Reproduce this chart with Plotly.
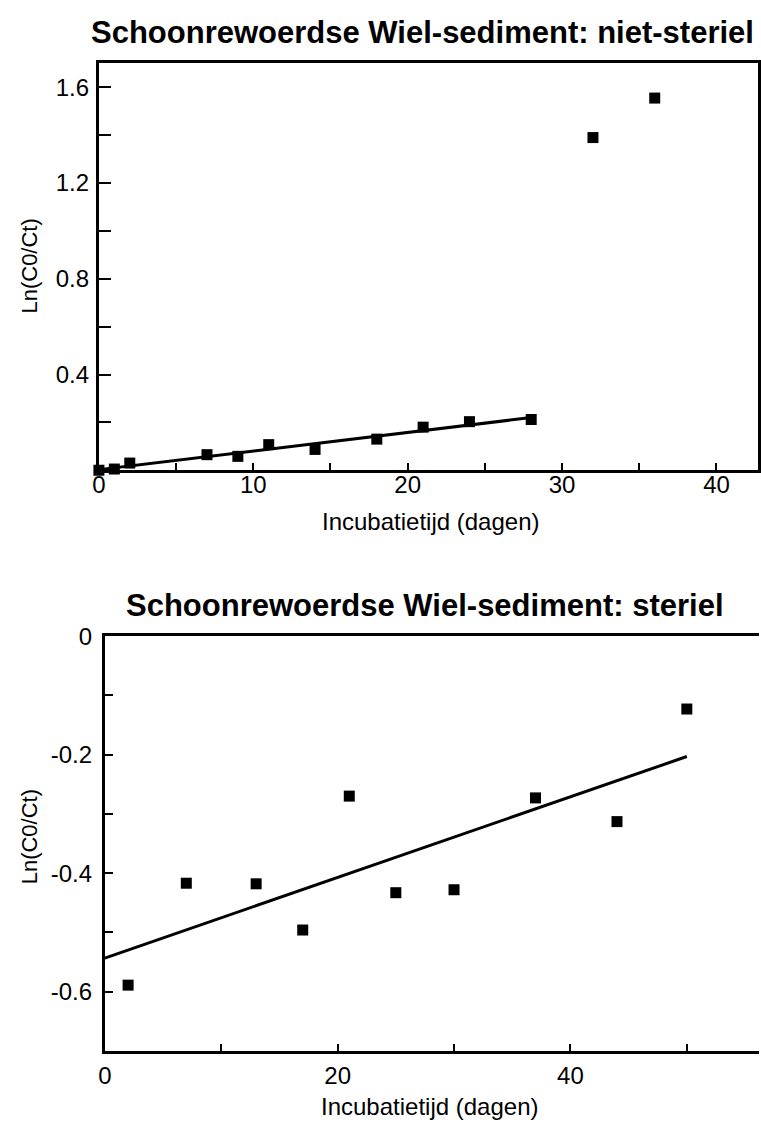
import numpy as np
import plotly.graph_objects as go

# ---------------- data ----------------
# Top panel: niet-steriel
days_ns = [0, 1, 2, 7, 9, 11, 14, 18, 21, 24, 28, 32, 36]
ln_ns = [0.0, 0.005, 0.03, 0.065, 0.058, 0.107, 0.087, 0.13, 0.18, 0.203, 0.212, 1.39, 1.555]
fit_end_ns = 28  # regression uses the points up to day 28

# Bottom panel: steriel
days_st = [2, 7, 13, 17, 21, 25, 30, 37, 44, 50]
ln_st = [-0.589, -0.417, -0.418, -0.496, -0.27, -0.433, -0.428, -0.273, -0.313, -0.123]
fit_end_st = 50

titles = ["Schoonrewoerdse Wiel-sediment: niet-steriel",
          "Schoonrewoerdse Wiel-sediment: steriel"]
x_title = "Incubatietijd (dagen)"
y_title = "Ln(C0/Ct)"

top_y_ticks = [0.2, 0.4, 0.6, 0.8, 1.0, 1.2, 1.4, 1.6]
top_y_text = ["", "0.4", "", "0.8", "", "1.2", "", "1.6"]
top_x_ticks = [0, 5, 10, 15, 20, 25, 30, 35, 40]
top_x_text = ["0", "", "10", "", "20", "", "30", "", "40"]
bot_y_ticks = [0, -0.1, -0.2, -0.3, -0.4, -0.5, -0.6]
bot_y_text = ["0", "", "-0.2", "", "-0.4", "", "-0.6"]
bot_x_ticks = [0, 10, 20, 30, 40, 50]
bot_x_text = ["0", "", "20", "", "40", ""]

# ---------------- fits ----------------
xa = np.array(days_ns, dtype=float)
ya = np.array(ln_ns, dtype=float)
m = xa <= fit_end_ns
s1, b1 = np.polyfit(xa[m], ya[m], 1)
fit_x_ns = np.array([0.0, fit_end_ns])
fit_y_ns = b1 + s1 * fit_x_ns

xb = np.array(days_st, dtype=float)
yb = np.array(ln_st, dtype=float)
s2, b2 = np.polyfit(xb, yb, 1)
fit_x_st = np.array([0.0, fit_end_st])
fit_y_st = b2 + s2 * fit_x_st

FONT = "Liberation Sans, Arial, Helvetica, sans-serif"
W, H = 761, 1122

fig = go.Figure()
mk = dict(symbol="square", size=11, color="black")
fig.add_trace(go.Scatter(x=fit_x_ns, y=fit_y_ns, mode="lines",
                         line=dict(color="black", width=3), xaxis="x", yaxis="y",
                         showlegend=False, cliponaxis=False))
fig.add_trace(go.Scatter(x=days_ns, y=ln_ns, mode="markers", marker=mk,
                         xaxis="x", yaxis="y", showlegend=False, cliponaxis=False))
fig.add_trace(go.Scatter(x=fit_x_st, y=fit_y_st, mode="lines",
                         line=dict(color="black", width=3), xaxis="x2", yaxis="y2",
                         showlegend=False, cliponaxis=False))
fig.add_trace(go.Scatter(x=days_st, y=ln_st, mode="markers", marker=mk,
                         xaxis="x2", yaxis="y2", showlegend=False, cliponaxis=False))

def px_x(p):
    return p / W

def px_y(p):
    return (H - p) / H

tickfont = dict(family=FONT, size=24, color="black")
common = dict(showgrid=False, zeroline=False, showline=True, linecolor="black",
              ticks="inside", tickcolor="black", tickfont=tickfont,
              tickmode="array", fixedrange=True)

fig.update_layout(
    width=W, height=H,
    margin=dict(l=0, r=0, t=0, b=0),
    paper_bgcolor="white", plot_bgcolor="white",
    xaxis=dict(domain=[px_x(93), px_x(760)], range=[0, 42.69], anchor="y",
               tickvals=top_x_ticks, ticktext=top_x_text, ticklen=7, tickwidth=2,
               linewidth=3, mirror=True, ticklabelstandoff=-9, **common),
    yaxis=dict(domain=[px_y(462), px_y(50)], range=[0, 1.70], anchor="x",
               tickvals=top_y_ticks, ticktext=top_y_text, ticklen=12, tickwidth=2,
               linewidth=3, mirror=True, ticklabelstandoff=2, **common),
    xaxis2=dict(domain=[px_x(99), 1.0], range=[0, 56.2], anchor="y2",
                tickvals=bot_x_ticks, ticktext=bot_x_text, ticklen=7, tickwidth=2,
                linewidth=3, mirror=True, ticklabelstandoff=1, **common),
    yaxis2=dict(domain=[px_y(1050), px_y(630)], range=[-0.7, 0], anchor="x2",
                tickvals=bot_y_ticks, ticktext=bot_y_text, ticklen=8, tickwidth=2,
                linewidth=3, mirror=False, ticklabelstandoff=5, **common),
)

ann = []
ann.append(dict(text="<b>%s</b>" % titles[0], x=px_x(420), y=px_y(19), xref="paper", yref="paper",
                showarrow=False, xanchor="center", yanchor="middle",
                font=dict(family=FONT, size=31, color="black")))
ann.append(dict(text="<b>%s</b>" % titles[1], x=px_x(423), y=px_y(599), xref="paper", yref="paper",
                showarrow=False, xanchor="center", yanchor="middle",
                font=dict(family=FONT, size=31, color="black")))
for xc, yc in [(429, 514), (428, 1106)]:
    ann.append(dict(text=x_title, x=px_x(xc), y=px_y(yc), xref="paper", yref="paper",
                    showarrow=False, xanchor="center", yanchor="middle",
                    font=dict(family=FONT, size=24, color="black")))
for yc in [255, 833]:
    ann.append(dict(text=y_title, x=px_x(23), y=px_y(yc), xref="paper", yref="paper",
                    showarrow=False, xanchor="center", yanchor="middle", textangle=-90,
                    font=dict(family=FONT, size=22, color="black")))
fig.update_layout(annotations=ann)

fig.write_html("out.html")
